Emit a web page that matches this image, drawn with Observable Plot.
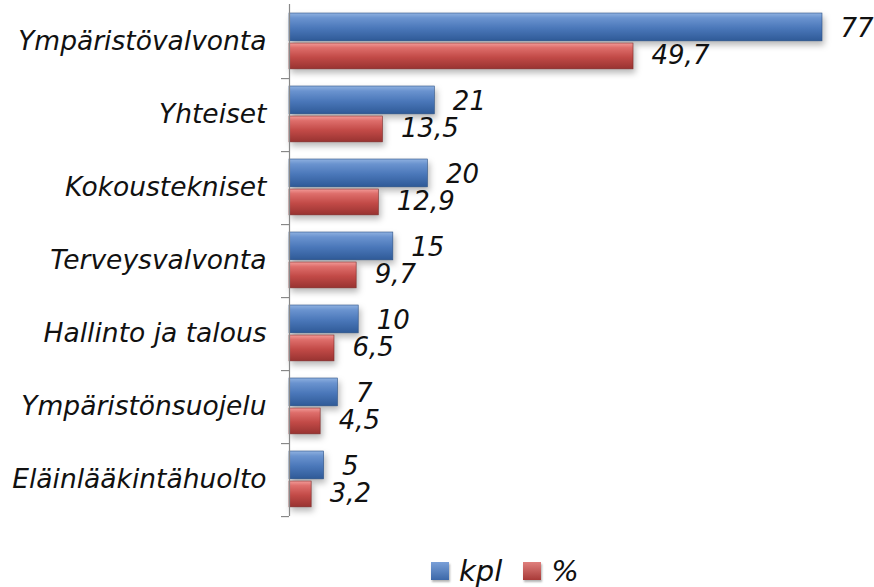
<!DOCTYPE html>
<html><head><meta charset="utf-8">
<script src="https://cdn.jsdelivr.net/npm/d3@7"></script>
<script src="https://cdn.jsdelivr.net/npm/@observablehq/plot@0.6"></script>
<style>
body{margin:0;background:#fff;font-family:"DejaVu Sans",Verdana,sans-serif;}
#legend{display:flex;align-items:center;margin-left:431px;margin-top:14px;font-style:italic;font-size:29px;color:#111;}
.sw{width:18px;height:18px;margin-right:10px;box-shadow:1px 2px 2px rgba(0,0,0,0.3);}
.item{display:flex;align-items:center;margin-right:21px;}
</style>
</head><body>
<div id="chart"></div>
<div id="legend"></div>
<script>
const categories = ["Ympäristövalvonta","Yhteiset","Kokoustekniset","Terveysvalvonta","Hallinto ja talous","Ympäristönsuojelu","Eläinlääkintähuolto"];
const kpl = [77, 21, 20, 15, 10, 7, 5];
const pct = [49.7, 13.5, 12.9, 9.7, 6.5, 4.5, 3.2];
const seriesNames = ["kpl", "%"];

const rows = categories.map((c, i) => ({category: c, kpl: kpl[i], pct: pct[i]}));
const fmt = v => String(v).replace(".", ",");

const W = 874, H = 540, mT = 4, mB = 24;
const bw = (H - mT - mB) / categories.length;

const chart = Plot.plot({
  width: W, height: H,
  marginLeft: 289, marginRight: 52, marginTop: mT, marginBottom: mB,
  style: {fontFamily: "DejaVu Sans, Verdana, sans-serif", background: "#fff", overflow: "visible"},
  x: {domain: [0, 77], axis: null},
  y: {domain: categories, padding: 0, axis: null},
  marks: [
    Plot.barX(rows, {x: "kpl", y: "category", fill: "url(#gBlue)", stroke: "#2c5286", strokeWidth: 0.6, insetTop: 8, insetBottom: bw - 36}),
    Plot.barX(rows, {x: "pct", y: "category", fill: "url(#gRed)", stroke: "#7e2a28", strokeWidth: 0.6, insetTop: 38, insetBottom: bw - 64}),
    Plot.ruleX([0], {stroke: "#888", strokeWidth: 1.2}),
    Plot.axisY({anchor: "left", label: null, tickSize: 8, tickFormat: () => "", stroke: "#888", strokeWidth: 1.2, dy: bw / 2}),
    Plot.axisY({anchor: "left", label: null, tickSize: 0, tickPadding: 23, fontSize: 26.5, fontStyle: "italic", fill: "#111"}),
    Plot.text(rows, {x: "kpl", y: "category", text: d => fmt(d.kpl), textAnchor: "start", dx: 18, dy: -13, fontSize: 26, fontStyle: "italic", fill: "#111"}),
    Plot.text(rows, {x: "pct", y: "category", text: d => fmt(d.pct), textAnchor: "start", dx: 18, dy: 14, fontSize: 26, fontStyle: "italic", fill: "#111"})
  ]
});

const svgNS = "http://www.w3.org/2000/svg";
const defs = document.createElementNS(svgNS, "defs");
defs.innerHTML = `
<linearGradient id="gBlue" x1="0" y1="0" x2="0" y2="1">
  <stop offset="0" stop-color="#8fb1e0"/><stop offset="0.18" stop-color="#6a93cf"/>
  <stop offset="0.55" stop-color="#4a77b9"/><stop offset="1" stop-color="#2f5a97"/>
</linearGradient>
<linearGradient id="gRed" x1="0" y1="0" x2="0" y2="1">
  <stop offset="0" stop-color="#f29b98"/><stop offset="0.18" stop-color="#de6e6b"/>
  <stop offset="0.55" stop-color="#c24a47"/><stop offset="1" stop-color="#983331"/>
</linearGradient>`;
chart.insertBefore(defs, chart.firstChild);
d3.select(chart).selectAll('g[aria-label="bar"]').style("filter", "drop-shadow(2px 4px 3px rgba(0,0,0,0.28))");
document.getElementById("chart").appendChild(chart);

const legend = document.getElementById("legend");
const grads = {"kpl": "linear-gradient(#7aa0d8,#3c68a8)", "%": "linear-gradient(#e0807d,#a83a38)"};
seriesNames.forEach(name => {
  const it = document.createElement("div"); it.className = "item";
  const sw = document.createElement("div"); sw.className = "sw"; sw.style.background = grads[name];
  const t = document.createElement("span"); t.textContent = name;
  it.appendChild(sw); it.appendChild(t); legend.appendChild(it);
});
</script>
</body></html>
